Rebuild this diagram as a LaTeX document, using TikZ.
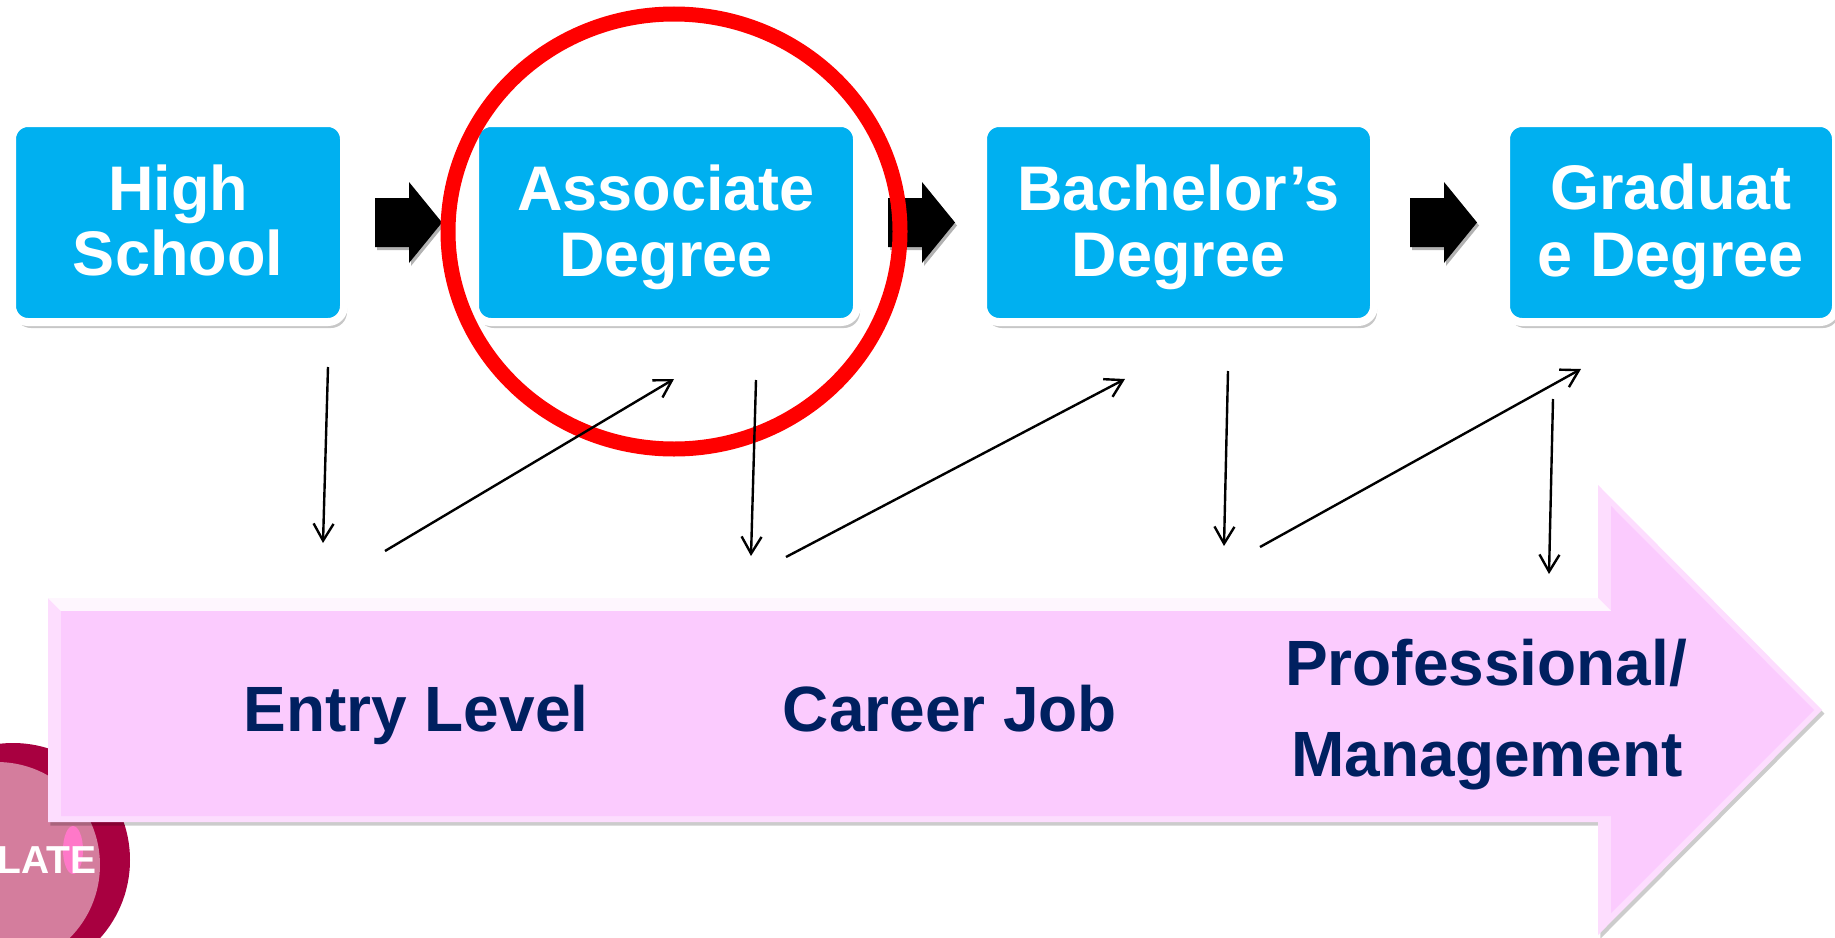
\documentclass[tikz,border=0pt]{standalone}
\usepackage{fontspec}
\setmainfont{Liberation Sans}
\usetikzlibrary{arrows.meta,shadows}
\definecolor{boxblue}{HTML}{00B0F0}
\definecolor{pinkfill}{HTML}{FBCBFE}
\definecolor{pinkedge}{HTML}{FDDDFE}
\definecolor{navy}{HTML}{002060}
\definecolor{ringred}{HTML}{FF0000}
\definecolor{crimson}{HTML}{A80040}
\definecolor{rose}{HTML}{D47D9D}
\definecolor{hotpink}{HTML}{FF78C8}
\begin{document}
\begin{tikzpicture}[x=0.5pt,y=-0.5pt,
  degbox/.style={rectangle, rounded corners=8pt, fill=boxblue, draw=white, line width=4pt,
    minimum height=99.5pt, inner sep=0pt,
    drop shadow={shadow xshift=1.5pt, shadow yshift=-3pt, fill=black, opacity=0.22}},
  boxtext/.style={text=white, font=\fontsize{31.5}{32.5}\selectfont\bfseries, inner sep=0pt, anchor=base},
  jobtext/.style={text=navy, font=\fontsize{32}{33}\selectfont\bfseries, inner sep=0pt, anchor=base},
  latetext/.style={text=white, font=\fontsize{19.5}{20}\selectfont\bfseries, inner sep=0pt},
  blkarrow/.style={fill=black, drop shadow={shadow xshift=1pt, shadow yshift=-1.5pt, fill=black, opacity=0.3}},
  thinarrow/.style={draw=black, line width=1.2pt, -{Straight Barb[length=8.5pt,width=10pt]}},
  ring/.style={draw=ringred, line width=7.5pt},
  pics/blockarrow/.style={code={\path[blkarrow] (0,-24.5) -- (34,-24.5) -- (34,-40.5) -- (67,0) -- (34,40.5) -- (34,24.5) -- (0,24.5) -- cycle;}}
]
\useasboundingbox (0,0) rectangle (1835,937);
\begin{scope}
\clip (0,0) rectangle (1835,937);
% bottom-left badge
\fill[crimson] (13,860) circle[radius=117];
\fill[rose] (-3,865) circle[radius=103];
\fill[hotpink] (73,850) ellipse[x radius=10, y radius=24];
\node[latetext, anchor=base east] (late) at (97,873) {LATE};
% big pink arrow
\path[fill=pinkedge, drop shadow={shadow xshift=1.2pt, shadow yshift=-1.8pt, fill=black, opacity=0.2}]
  (48,598) -- (1598,598) -- (1598,485) -- (1822,710) -- (1598,935) -- (1598,822) -- (48,822) -- cycle;
\fill[white, opacity=0.75] (48,598) -- (1598,598) -- (1611,611) -- (61,611) -- cycle;
\fill[pinkfill] (61,611) -- (1611,611) -- (1611,506) -- (1814,710) -- (1611,913) -- (1611,816) -- (61,816) -- cycle;
\node[jobtext] (entry) at (416,731) {Entry Level};
\node[jobtext] (career) at (950,731) {Career Job};
\node[jobtext] (prof1) at (1486,685) {Professional/};
\node[jobtext] (prof2) at (1487,776) {Management};
% degree boxes
\node[degbox, minimum width=166pt] (hs) at (178,222.5) {};
\node[degbox, minimum width=191pt] (assoc) at (666,222.5) {};
\node[degbox, minimum width=195.5pt] (bach) at (1178.5,222.5) {};
\node[degbox, minimum width=165pt] (grad) at (1671,222.5) {};
\node[boxtext] (hs1) at (178,210) {High};
\node[boxtext] (hs2) at (178,275) {School};
\node[boxtext] (as1) at (666,210) {Associate};
\node[boxtext] (as2) at (666,276) {Degree};
\node[boxtext] (ba1) at (1178.5,210) {Bachelor’s};
\node[boxtext] (ba2) at (1178.5,276) {Degree};
\node[boxtext] (gr1) at (1671,209) {Graduat};
\node[boxtext] (gr2) at (1671,276) {e Degree};
% block arrows
\pic at (375,222.5) {blockarrow};
\pic at (888,222.5) {blockarrow};
\pic at (1410,222.5) {blockarrow};
% red highlight ring
\draw[ring] (674,231.5) ellipse[x radius=226, y radius=217.5];
% thin arrows
\coordinate (a1s) at (328,367);  \coordinate (a1e) at (323,543);
\coordinate (a2s) at (385,551);  \coordinate (a2e) at (674,379);
\coordinate (a3s) at (756,380);  \coordinate (a3e) at (751,556);
\coordinate (a4s) at (786,557);  \coordinate (a4e) at (1125,379);
\coordinate (a5s) at (1228,371); \coordinate (a5e) at (1224,546);
\coordinate (a6s) at (1260,547); \coordinate (a6e) at (1581,369);
\coordinate (a7s) at (1553,399); \coordinate (a7e) at (1549,574);
\draw[thinarrow] (a1s) -- (a1e);
\draw[thinarrow] (a2s) -- (a2e);
\draw[thinarrow] (a3s) -- (a3e);
\draw[thinarrow] (a4s) -- (a4e);
\draw[thinarrow] (a5s) -- (a5e);
\draw[thinarrow] (a6s) -- (a6e);
\draw[thinarrow] (a7s) -- (a7e);
\end{scope}
\end{tikzpicture}
\end{document}
